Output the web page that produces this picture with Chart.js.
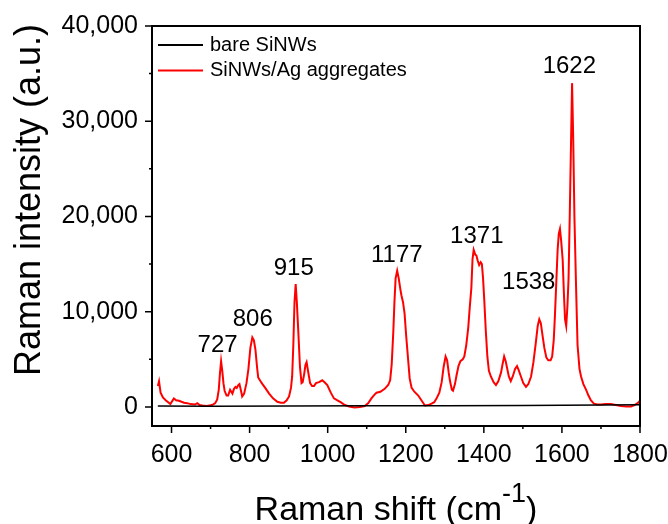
<!DOCTYPE html>
<html>
<head>
<meta charset="utf-8">
<script src="https://cdn.jsdelivr.net/npm/chart.js@4.4.0/dist/chart.umd.min.js"></script>
<style>
html, body { margin: 0; padding: 0; background: #fff; }
</style>
</head>
<body>
<canvas id="myChart" width="668" height="524"></canvas>
<script>
// spectrum data
let agShift = [565, 568, 572, 578, 585, 597, 606, 612, 619, 632, 640, 649, 660, 666, 672, 679, 690, 704, 712, 717,
    721, 724, 727, 730, 733, 736, 741, 745, 750, 756, 760, 764, 767, 771, 774, 778, 781, 786, 792, 797,
    802, 807, 811, 815, 819, 822, 828, 833, 840, 850, 860, 871, 880, 888, 895, 901, 906, 909, 912, 915,
    918, 921, 925, 929, 933, 936, 940, 943, 946, 950, 955, 960, 965, 970, 978, 986, 992, 999, 1008, 1016,
    1025, 1033, 1044, 1055, 1069, 1082, 1095, 1104, 1112, 1120, 1125, 1135, 1146, 1155, 1160, 1164, 1168, 1171, 1174, 1178,
    1182, 1186, 1189, 1193, 1197, 1201, 1206, 1210, 1215, 1222, 1232, 1240, 1249, 1258, 1266, 1273, 1279, 1286, 1292, 1297,
    1302, 1306, 1310, 1313, 1318, 1321, 1326, 1330, 1335, 1340, 1346, 1350, 1355, 1360, 1364, 1368, 1371, 1374, 1378, 1381,
    1384, 1388, 1392, 1395, 1398, 1401, 1405, 1409, 1413, 1418, 1425, 1431, 1437, 1444, 1448, 1452, 1456, 1459, 1464, 1469,
    1474, 1480, 1485, 1489, 1495, 1501, 1508, 1514, 1521, 1527, 1533, 1538, 1542, 1546, 1550, 1555, 1560, 1565, 1571, 1575,
    1579, 1582, 1585, 1589, 1592, 1595, 1598, 1602, 1605, 1608, 1611, 1614, 1617, 1620, 1623, 1626, 1629, 1632, 1636, 1640,
    1645, 1649, 1655, 1662, 1668, 1674, 1682, 1690, 1700, 1712, 1725, 1738, 1751, 1765, 1777, 1786, 1794, 1800];
let agIntensity = [2200, 2700, 1500, 1000, 700, 300, 900, 700, 650, 450, 400, 300, 250, 400, 200, 150, 100, 200, 400, 800,
    1800, 3500, 4800, 3800, 2500, 1700, 1200, 1200, 1800, 1400, 1900, 2100, 2000, 2300, 2400, 1700, 1100, 1400, 2500, 4000,
    6200, 7300, 7000, 6000, 4200, 3100, 2700, 2400, 2000, 1400, 900, 550, 450, 450, 700, 1100, 2000, 3200, 6500, 11000,
    12900, 11000, 7700, 4200, 2500, 2600, 3500, 4400, 4700, 3700, 2500, 2200, 2200, 2500, 2600, 2800, 2600, 2300, 1500, 900,
    700, 500, 200, 50, -50, 0, 100, 400, 900, 1300, 1500, 1600, 1900, 2300, 2800, 4500, 7800, 11000, 13500, 14300,
    13500, 12400, 11700, 11000, 9800, 7500, 5000, 3000, 2000, 1600, 1200, 700, 150, 200, 350, 500, 900, 1500, 2600, 4200,
    5300, 4900, 3600, 2800, 1800, 1700, 2400, 3300, 4300, 4800, 5000, 5300, 6500, 8300, 10500, 12500, 15500, 16500, 16000, 15900,
    15400, 14900, 15200, 15000, 13500, 11300, 8000, 5300, 3800, 3200, 2600, 2300, 2700, 3600, 4500, 5300, 4800, 4200, 3200, 2700,
    3200, 4000, 4300, 3900, 3200, 2500, 2100, 2400, 3200, 4700, 6700, 8500, 9200, 8800, 7600, 6200, 5200, 4900, 4900, 5300,
    7000, 9500, 12500, 16500, 18200, 18700, 17500, 15400, 12000, 9200, 8500, 10500, 13500, 20000, 27000, 34000, 28000, 20000, 13000, 6500,
    4000, 3200, 2400, 1800, 1200, 700, 350, 250, 250, 300, 300, 200, 100, 50, 50, 200, 400, 650];

let bareShift = [565, 700, 900, 1100, 1300, 1500, 1700, 1800];
let bareIntensity = [100, 80, 100, 120, 130, 150, 200, 220];

// peak annotations (text, x in cm-1, y in a.u.)
let peakText = ['727', '806', '915', '1177', '1371', '1538', '1622'];
let peakX = [718, 808, 913, 1177, 1382, 1515, 1619];
let peakY = [5770, 8500, 13860, 15230, 17220, 12390, 35070];

let seriesNames = ['bare SiNWs', 'SiNWs/Ag aggregates'];
let seriesColors = ['#000000', '#ff0000'];

let xTicks = [600, 700, 800, 900, 1000, 1100, 1200, 1300, 1400, 1500, 1600, 1700, 1800];
let yTicks = [0, 5000, 10000, 15000, 20000, 25000, 30000, 35000, 40000];

const FONT = '"Liberation Sans", Arial, sans-serif';

function toPoints(xs, ys) {
    let pts = [];
    for (let i = 0; i < xs.length; i++) pts.push({ x: xs[i], y: ys[i] });
    return pts;
}

// frame, tick marks, legend, peak labels and axis titles
const decorPlugin = {
    id: 'decor',
    afterDraw(chart) {
        const ctx = chart.ctx;
        const a = chart.chartArea;
        const xs = chart.scales.x;
        const ys = chart.scales.y;
        ctx.save();
        ctx.strokeStyle = '#000';
        ctx.lineWidth = 2;
        ctx.strokeRect(a.left, a.top, a.right - a.left, a.bottom - a.top);

        ctx.lineWidth = 1.5;
        ctx.beginPath();
        xTicks.forEach(v => {
            let px = xs.getPixelForValue(v);
            let len = v % 200 === 0 ? 7 : 3;
            ctx.moveTo(px, a.bottom);
            ctx.lineTo(px, a.bottom + len);
        });
        yTicks.forEach(v => {
            let py = ys.getPixelForValue(v);
            let len = v % 10000 === 0 ? 7 : 3;
            ctx.moveTo(a.left, py);
            ctx.lineTo(a.left - len, py);
        });
        ctx.stroke();

        // legend
        ctx.font = '20px ' + FONT;
        ctx.textAlign = 'left';
        ctx.textBaseline = 'middle';
        seriesNames.forEach((name, i) => {
            let ly = a.top + 19 + i * 25.5;
            ctx.strokeStyle = seriesColors[i];
            ctx.lineWidth = 2;
            ctx.beginPath();
            ctx.moveTo(a.left + 6, ly);
            ctx.lineTo(a.left + 51, ly);
            ctx.stroke();
            ctx.fillStyle = '#000';
            ctx.fillText(name, a.left + 58, ly);
        });

        // peak labels
        ctx.font = '24px ' + FONT;
        ctx.textAlign = 'center';
        ctx.textBaseline = 'alphabetic';
        peakText.forEach((t, i) => {
            ctx.fillText(t, xs.getPixelForValue(peakX[i]), ys.getPixelForValue(peakY[i]));
        });

        // y title
        ctx.save();
        ctx.translate(40, 200);
        ctx.rotate(-Math.PI / 2);
        ctx.font = '36px ' + FONT;
        ctx.textAlign = 'center';
        ctx.fillText('Raman intensity (a.u.)', 0, 0);
        ctx.restore();

        // x title with superscript
        ctx.textAlign = 'left';
        ctx.font = '34px ' + FONT;
        let main = 'Raman shift (cm';
        let wMain = ctx.measureText(main).width;
        let wClose = ctx.measureText(')').width;
        ctx.font = '27px ' + FONT;
        let wSup = ctx.measureText('-1').width;
        let cx = (a.left + a.right) / 2;
        let sx = cx - (wMain + wSup + wClose) / 2;
        ctx.font = '34px ' + FONT;
        ctx.fillText(main, sx, 520);
        ctx.fillText(')', sx + wMain + wSup, 520);
        ctx.font = '27px ' + FONT;
        ctx.fillText('-1', sx + wMain, 502);
        ctx.restore();
    }
};

const config = {
    type: 'scatter',
    data: {
        datasets: [{
            label: seriesNames[0],
            data: toPoints(bareShift, bareIntensity),
            showLine: true,
            borderColor: seriesColors[0],
            borderWidth: 1.5,
            pointRadius: 0,
        },
        {
            label: seriesNames[1],
            data: toPoints(agShift, agIntensity),
            showLine: true,
            borderColor: seriesColors[1],
            borderWidth: 2,
            pointRadius: 0,
        }]
    },
    options: {
        responsive: false,
        animation: false,
        devicePixelRatio: 1,
        layout: { padding: { top: 26, right: 28, left: 0, bottom: 0 } },
        plugins: {
            legend: { display: false },
            title: { display: false },
            tooltip: { enabled: false },
        },
        scales: {
            x: {
                type: 'linear',
                min: 550,
                max: 1800,
                afterBuildTicks: axis => { axis.ticks = xTicks.map(v => ({ value: v })); },
                afterFit: axis => {
                    axis.height = 98;
                    axis.paddingLeft = 0;
                    axis.paddingRight = 0;
                },
                grid: { display: false, drawTicks: false },
                border: { display: false },
                ticks: {
                    autoSkip: false,
                    maxRotation: 0,
                    padding: 14,
                    color: '#000',
                    font: { family: FONT, size: 25 },
                    callback: v => (v % 200 === 0 ? String(v) : '')
                }
            },
            y: {
                type: 'linear',
                min: -2000,
                max: 40000,
                afterBuildTicks: axis => { axis.ticks = yTicks.map(v => ({ value: v })); },
                afterFit: axis => {
                    axis.width = 152;
                    axis.paddingTop = 0;
                    axis.paddingBottom = 0;
                },
                grid: { display: false, drawTicks: false },
                border: { display: false },
                ticks: {
                    autoSkip: false,
                    padding: 14,
                    color: '#000',
                    font: { family: FONT, size: 25 },
                    callback: v => (v % 10000 === 0 ? v.toLocaleString('en-US') : '')
                }
            }
        }
    },
    plugins: [decorPlugin]
};

let myChart = new Chart(document.getElementById('myChart'), config);
</script>
</body>
</html>
